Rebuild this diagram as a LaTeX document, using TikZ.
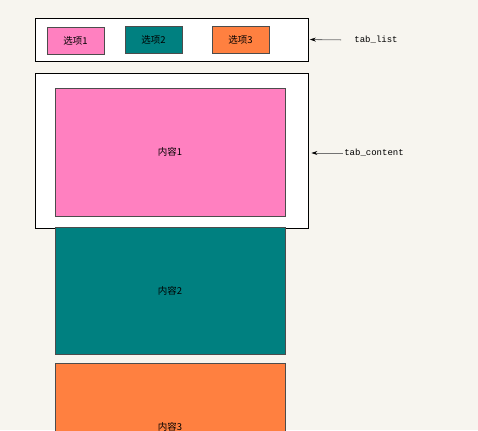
\documentclass[tikz,border=0pt]{standalone}
\usepackage{fontspec}
\newfontfamily\cjk{Noto Sans CJK SC}
\setmonofont{Liberation Mono}
\usetikzlibrary{arrows.meta}
\definecolor{paper}{RGB}{247,245,239}
\definecolor{tabpink}{RGB}{255,128,192}
\definecolor{tabteal}{RGB}{0,128,128}
\definecolor{taborange}{RGB}{255,128,64}
\tikzset{
  panel/.style={draw=black, fill=white, line width=0.7pt, minimum width=273pt, inner sep=0pt},
  tab/.style={draw=black!70, line width=0.7pt, minimum width=57pt, minimum height=27pt, inner sep=0pt,
    font=\cjk\fontsize{9.5}{11}\selectfont},
  pane/.style={draw=black!70, line width=0.7pt, minimum width=230pt, inner sep=0pt,
    font=\cjk\fontsize{9.5}{11}\selectfont},
  tag/.style={font=\ttfamily\fontsize{9}{11}\selectfont, inner sep=1pt},
  pointer/.style={-{Stealth[length=6pt,width=4pt,black]}, line width=0.8pt, black!55}
}
\begin{document}
\begin{tikzpicture}[x=1pt,y=-1pt]
  \useasboundingbox (0,0) rectangle (478,430);
  \clip (0,0) rectangle (478,430);
  \fill[paper] (0,0) rectangle (478,430);
  \node[panel, minimum height=43pt] (list) at (171.5,39.5) {};
  \node[tab, fill=tabpink] (tab1) at (75.5,41) {选项1};
  \node[tab, fill=tabteal] (tab2) at (153.5,39.5) {选项2};
  \node[tab, fill=taborange] (tab3) at (240.5,39.5) {选项3};
  \node[panel, minimum height=155pt] (content) at (171.5,150.5) {};
  \node[pane, fill=tabpink, minimum height=128pt] (pane1) at (170,152) {内容1};
  \node[pane, fill=tabteal, minimum height=127pt] (pane2) at (170,290.5) {内容2};
  \node[pane, fill=taborange, minimum height=127pt] (pane3) at (170,426.5) {内容3};
  \node[tag] (listtag) at (376,40) {tab\_list};
  \node[tag] (contenttag) at (374,153) {tab\_content};
  \draw[pointer, shorten <=12pt, shorten >=1.5pt] (listtag.west) -- (list.east);
  \draw[pointer, shorten >=3pt] (contenttag.west) -- (content.east |- contenttag.west);
\end{tikzpicture}
\end{document}
